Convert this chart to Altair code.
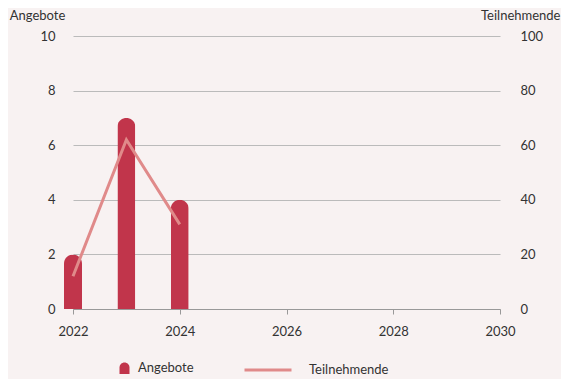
import altair as alt
import pandas as pd

years = [2022, 2023, 2024]
angebote = [2, 7, 4]
teilnehmende = [12, 62, 31]

df = pd.DataFrame({
    "Jahr": years,
    "Angebote": angebote,
    "Teilnehmende": teilnehmende,
    "s1": ["Angebote"] * 3,
    "s2": ["Teilnehmende"] * 3,
})

FONT = "Lato"
TXT = "#333333"
FS = 13

x_scale = alt.Scale(domain=[2022, 2030], nice=False, zero=False, padding=0)

x_enc = alt.X(
    "Jahr:Q",
    scale=x_scale,
    axis=alt.Axis(
        values=[2022, 2024, 2026, 2028, 2030], format="d", title=None,
        grid=False, domainColor="#999999", tickColor="#999999", tickSize=5,
        labelPadding=11, labelFontSize=FS, labelColor=TXT, labelFont=FONT,
        labelFlush=False,
    ),
)

bars = alt.Chart(df).mark_bar(
    size=18, cornerRadiusTopLeft=9, cornerRadiusTopRight=9
).encode(
    x=x_enc,
    y=alt.Y(
        "Angebote:Q",
        scale=alt.Scale(domain=[0, 10], nice=False),
        axis=alt.Axis(
            values=[0, 2, 4, 6, 8, 10], title="Angebote", titleAngle=0,
            titleAlign="center", titleX=-36, titleY=-14, titleBaseline="bottom",
            titleFontWeight="normal", titleFontSize=FS, titleColor=TXT, titleFont=FONT,
            grid=True, gridColor="#bbbbbb", domain=False, ticks=False,
            labelPadding=18, labelFontSize=FS, labelColor=TXT, labelFont=FONT,
        ),
    ),
    color=alt.Color(
        "s1:N",
        scale=alt.Scale(domain=["Angebote"], range=["#c1354b"]),
        legend=alt.Legend(
            title=None, orient="none", legendX=45, legendY=325, padding=0,
            symbolType="M-1,1.3L-1,0A1,1 0 0 1 1,0L1,1.3Z", symbolSize=100,
            symbolStrokeWidth=0, labelOffset=7, labelFontSize=FS,
            labelColor=TXT, labelFont=FONT,
        ),
    ),
)

line = alt.Chart(df).mark_line(strokeWidth=3).encode(
    x=alt.X("Jahr:Q", scale=x_scale),
    y=alt.Y(
        "Teilnehmende:Q",
        scale=alt.Scale(domain=[0, 100], nice=False),
        axis=alt.Axis(
            orient="right", values=[0, 20, 40, 60, 80, 100], title="Teilnehmende",
            titleAngle=0, titleAlign="right", titleX=60, titleY=-14,
            titleBaseline="bottom", titleFontWeight="normal", titleFontSize=FS,
            titleColor=TXT, titleFont=FONT, grid=False, domain=False, ticks=False,
            labelPadding=20, labelFontSize=FS, labelColor=TXT, labelFont=FONT,
        ),
    ),
    stroke=alt.Stroke(
        "s2:N",
        scale=alt.Scale(domain=["Teilnehmende"], range=["#e08a8a"]),
        legend=alt.Legend(
            title=None, orient="none", legendX=170, legendY=309, padding=0,
            symbolType="stroke", symbolSize=2209, symbolStrokeWidth=3,
            labelOffset=16, labelFontSize=FS, labelColor=TXT, labelFont=FONT,
        ),
    ),
)

chart = alt.layer(bars, line).resolve_scale(y="independent").properties(
    width=427, height=273,
    autosize=alt.AutoSizeParams(type="none"),
    padding={"left": 65, "top": 28, "right": 61, "bottom": 70},
    background="#f8f2f2",
).configure_view(stroke=None)

chart.save("out.html", embed_options={"renderer": "svg", "actions": False})
